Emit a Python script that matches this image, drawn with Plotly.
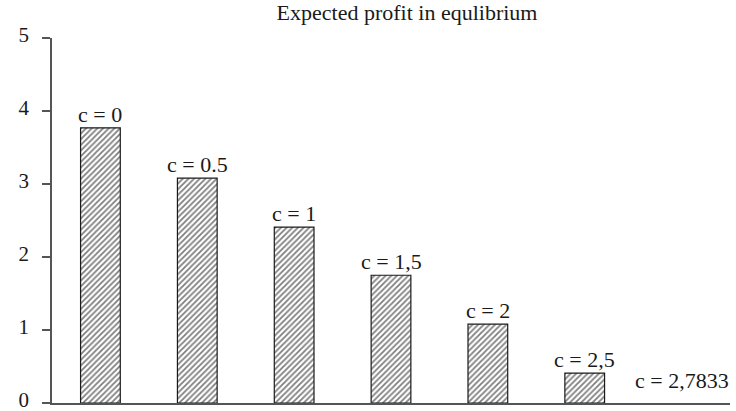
import plotly.graph_objects as go

categories = ["c = 0", "c = 0.5", "c = 1", "c = 1,5", "c = 2", "c = 2,5", "c = 2,7833"]
profit = [3.77, 3.08, 2.41, 1.75, 1.08, 0.41, 0.0]
y_ticks = [0, 1, 2, 3, 4, 5]

FONT = "Liberation Serif, Times New Roman, serif"
INK = "#1a1a1a"

fig = go.Figure(go.Bar(
    x=categories,
    y=profit,
    width=0.41,
    marker=dict(
        color="white",
        line=dict(color=INK, width=[1.2 if v > 0 else 0 for v in profit]),
        pattern=dict(shape="/", fgcolor="#000", bgcolor="white", size=4, solidity=0.45),
    ),
))

for cat, val in zip(categories, profit):
    fig.add_annotation(
        x=cat, y=val, text=cat, showarrow=False,
        xanchor="center", yanchor="bottom", yshift=-1 if val > 0 else 8,
        font=dict(family=FONT, size=22, color=INK),
    )

fig.update_layout(
    width=736, height=411,
    margin=dict(l=52, r=6, t=38, b=8, autoexpand=False),
    paper_bgcolor="white", plot_bgcolor="white",
    showlegend=False,
    title=dict(text="Expected profit in equlibrium", x=0.553, xanchor="center",
               y=0.99, yanchor="top",
               font=dict(family=FONT, size=22, color=INK)),
    font=dict(family=FONT, color=INK),
)
fig.update_xaxes(
    type="category", range=[-0.5, 6.5], automargin=False,
    showline=True, linecolor="#555", linewidth=1.5,
    showticklabels=False, ticks="", showgrid=False, zeroline=False,
)
fig.update_yaxes(
    range=[0, 5], tickvals=y_ticks, automargin=False,
    showline=True, linecolor="#555", linewidth=1.5,
    ticks="outside", ticklen=8, tickcolor="#555", tickwidth=1.5,
    showgrid=False, zeroline=False,
    tickfont=dict(family=FONT, size=21, color=INK),
    ticklabelstandoff=9, ticklabeloverflow="allow", ticklabelshift=-3,
)

fig.write_html("out.html", config={"displayModeBar": False},
               post_script="document.body.style.margin='0';")
